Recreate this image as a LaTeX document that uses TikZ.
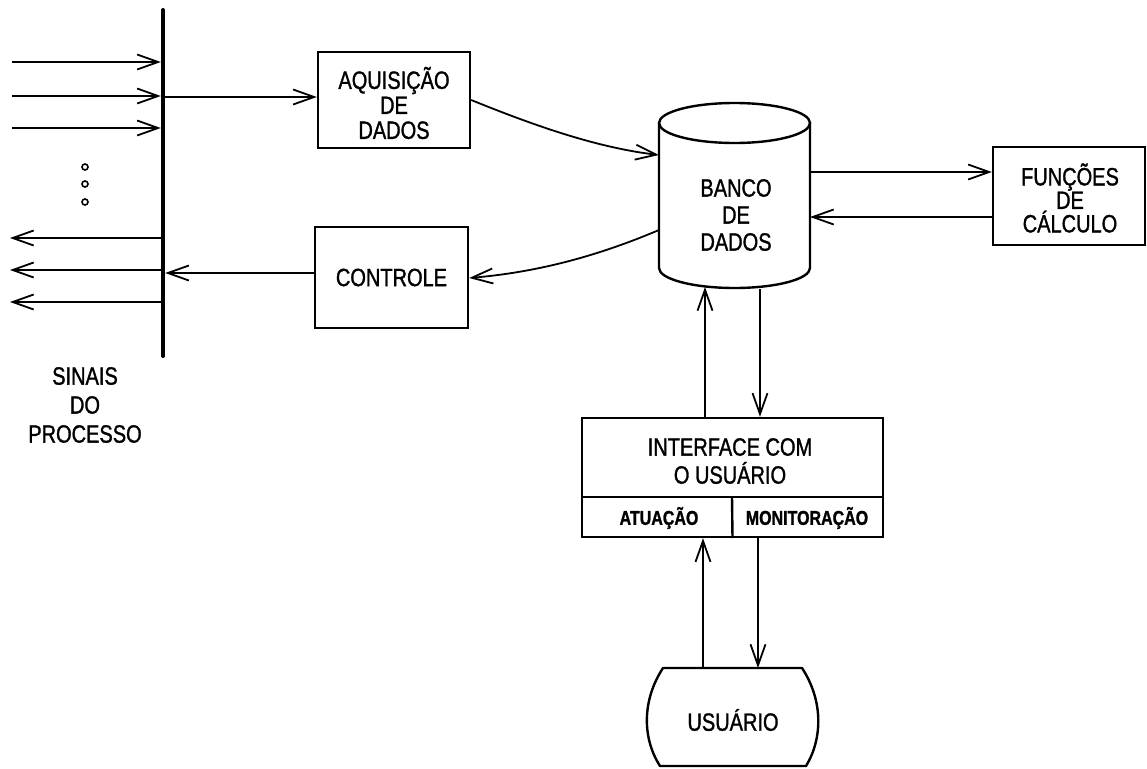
\documentclass[tikz,border=0pt]{standalone}
\usepackage{fontspec}
\setmainfont{Liberation Sans}[FakeStretch=0.8, FakeBold=1.2]
\usetikzlibrary{arrows.meta,calc}

\begin{document}
\begin{tikzpicture}[x=1pt,y=-1pt,
  every node/.style={inner sep=0pt, align=center},
  box/.style={draw, line width=2.4pt},
  link/.style={line width=1.8pt, -{Straight Barb[length=21pt,width=15pt,line width=1.8pt]}},
  big/.style={font=\fontsize{25}{#1}\selectfont},
  small/.style={font=\bfseries\fontsize{20}{21}\selectfont},
  ]
\useasboundingbox (0,0) rectangle (1147,768);

% process signal bus
\draw[line width=4pt, line cap=round] (163,10) -- (163,356);
\node (bus) at (163,183) [minimum width=4pt, minimum height=346pt] {};

% incoming signals
\foreach \y [count=\i] in {62,96,128} {
  \coordinate (in\i) at (12,\y);
  \draw[link] (in\i) -- (in\i -| bus.west);
}
% outgoing signals
\foreach \y [count=\i] in {238,270,302} {
  \coordinate (out\i) at (10,\y);
  \draw[link] (out\i -| bus.west) -- (out\i);
}
% ellipsis dots
\foreach \y in {167,184,202} \draw[line width=1.6pt] (85,\y) circle[radius=3];

\node[big=29] (sinais) at (85,405) {SINAIS\\DO\\PROCESSO};

% blocks
\node[box, minimum width=152pt, minimum height=96pt] (aq) at (394,100) {};
\node[big=25] at (394,103) {AQUISIÇÃO\\DE\\DADOS};
\node[box, minimum width=153pt, minimum height=101pt, big=25] (ctl) at (391.5,277.5) {CONTROLE};
\node[box, minimum width=152pt, minimum height=98pt] (fc) at (1069,196) {};
\node[big=23.5] at (1070,198) {FUNÇÕES\\DE\\CÁLCULO};

% database cylinder
\node (db) at (734.5,195) [minimum width=151pt, minimum height=185pt] {};
\draw[line width=2.4pt] (659,123) -- (659,268)
  arc[start angle=180, end angle=0, x radius=75.5, y radius=20] -- (810,123);
\draw[line width=2.4pt] (734.5,123) ellipse [x radius=75.5, y radius=20];
\node[big=27] at (736,215) {BANCO\\DE\\DADOS};
\coordinate (dbL1) at (659,155);
\coordinate (dbL2) at (659,230);
\coordinate (dbR1) at (810,172);
\coordinate (dbR2) at (810,217);
\coordinate (dbB1) at (705,287);
\coordinate (dbB2) at (760,289);

% user interface block
\node[box, minimum width=301pt, minimum height=119pt] (ui) at (732.5,477.5) {};
\draw[line width=2.4pt] (ui.west |- 0,497) -- (ui.east |- 0,497);
\draw[line width=2.4pt] (732,497) -- (ui.south);
\node[big=28] at (730,461) {INTERFACE COM\\O USUÁRIO};
\node[small] (atu) at (659,518) {ATUAÇÃO};
\node[small] (mon) at (807,518) {MONITORAÇÃO};

% user terminal
\node (usr) at (733,717) [minimum width=170pt, minimum height=98pt] {};
\draw[line width=2.4pt, line join=round]
  (663,668) -- (802,668) .. controls (823,700) and (823,738) .. (806,766)
  -- (660,766) .. controls (642,738) and (642,700) .. (663,668) -- cycle;
\node[big=25] at (733,720) {USUÁRIO};

% connectors
\draw[link] (bus.east |- 0,97) -- (aq.west |- 0,97);
\draw[link] (ctl.west |- 0,273) -- (bus.east |- 0,273);
\draw[link] (aq.east) .. controls (540,128) and (600,148) .. (dbL1);
\draw[link] (dbL2) .. controls (600,255) and (540,272) .. (ctl.east |- 0,278);
\draw[link] (dbR1) -- (fc.west |- dbR1);
\draw[link] (fc.west |- dbR2) -- (dbR2);
\draw[link] (ui.north -| dbB1) -- (dbB1);
\draw[link] (dbB2) -- (ui.north -| dbB2);
\coordinate (u1) at (703,668);
\coordinate (u2) at (758,668);
\draw[link] (u1) -- (ui.south -| u1);
\draw[link] (ui.south -| u2) -- (u2);
\end{tikzpicture}
\end{document}
